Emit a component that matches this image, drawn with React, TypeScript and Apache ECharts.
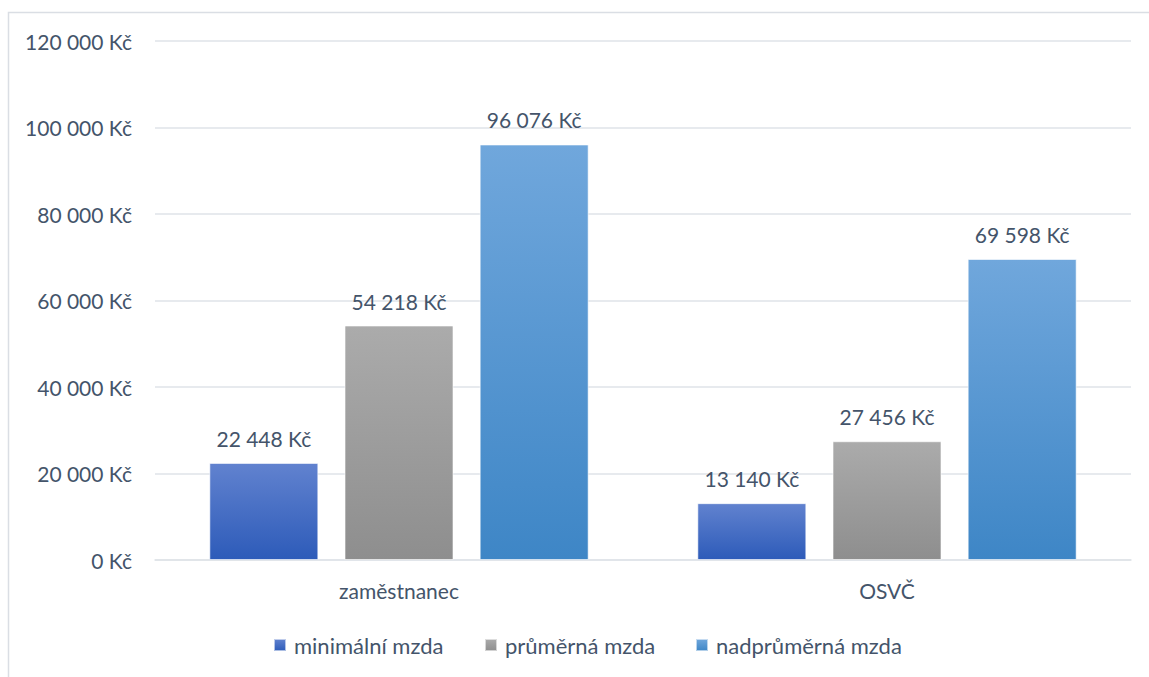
import React, { useEffect, useRef } from "react";
import * as echarts from "echarts";

const categories = ["zaměstnanec", "OSVČ"];
const seriesNames = ["minimální mzda", "průměrná mzda", "nadprůměrná mzda"];
const minimalni = [22448, 13140];
const prumerna = [54218, 27456];
const nadprumerna = [96076, 69598];
const yTicks = [0, 20000, 40000, 60000, 80000, 100000, 120000];

const fmt = (v: number) => {
  const s = Math.round(v).toString().replace(/\B(?=(\d{3})+(?!\d))/g, " ");
  return s + " Kč";
};

const TEXT = "#44546a";
const FONT = "Lato";

const grad = (top: string, bottom: string) =>
  new echarts.graphic.LinearGradient(0, 0, 0, 1, [
    { offset: 0, color: top },
    { offset: 1, color: bottom },
  ]);

export default function App() {
  const ref = useRef<HTMLDivElement>(null);
  useEffect(() => {
    if (!ref.current) return;
    const chart = echarts.init(ref.current, undefined, { renderer: "svg" });
    const colors = [
      grad("#6182cf", "#2d5bb9"),
      grad("#ababab", "#8e8e8e"),
      grad("#70a7dc", "#3e86c6"),
    ];
    const data = [minimalni, prumerna, nadprumerna];
    const series = seriesNames.map((name, i) => ({
      name,
      type: "bar",
      data: data[i],
      barWidth: 109,
      barGap: "24%",
      itemStyle: {
        color: colors[i],
        borderColor: "rgba(255,255,255,0.6)",
        borderWidth: 1,
      },
      label: {
        show: true,
        position: "top",
        distance: 14,
        formatter: (p: any) => fmt(p.value),
        color: TEXT,
        fontFamily: FONT,
        fontSize: 21,
      },
    }));
    const legendLefts = [268, 479, 690];
    chart.setOption({
      animation: false,
      backgroundColor: "#ffffff",
      textStyle: { fontFamily: FONT },
      graphic: [
        {
          type: "rect",
          shape: { x: 8.5, y: 12.5, width: 1300, height: 800 },
          style: { fill: "none", stroke: "#dadee4", lineWidth: 1.5 },
          silent: true,
        },
      ],
      grid: { left: 155, right: 18, top: 41, bottom: 117, containLabel: false },
      legend: seriesNames.map((n, i) => ({
        data: [n],
        left: legendLefts[i],
        top: 629,
        itemWidth: 12,
        itemHeight: 12,
        itemGap: 8,
        icon: "rect",
        textStyle: {
          color: TEXT,
          fontFamily: FONT,
          fontSize: 22,
          padding: [0, 0, 0, 3],
        },
      })),
      xAxis: {
        type: "category",
        data: categories,
        axisLine: { show: true, lineStyle: { color: "#dfe3e8", width: 1.5 } },
        axisTick: { show: false },
        axisLabel: {
          color: TEXT,
          fontFamily: FONT,
          fontSize: 21,
          margin: 20,
        },
      },
      yAxis: {
        type: "value",
        min: yTicks[0],
        max: yTicks[yTicks.length - 1],
        interval: yTicks[1] - yTicks[0],
        axisLine: { show: false },
        axisTick: { show: false },
        splitLine: { lineStyle: { color: "#dfe3e8", width: 1.5 } },
        axisLabel: {
          color: TEXT,
          fontFamily: FONT,
          fontSize: 21,
          margin: 23,
          formatter: (v: number) => fmt(v),
        },
      },
      series,
    });
    return () => chart.dispose();
  }, []);
  return (
    <div
      ref={ref}
      style={{ position: "fixed", left: 0, top: 0, width: 1149, height: 677 }}
    />
  );
}
